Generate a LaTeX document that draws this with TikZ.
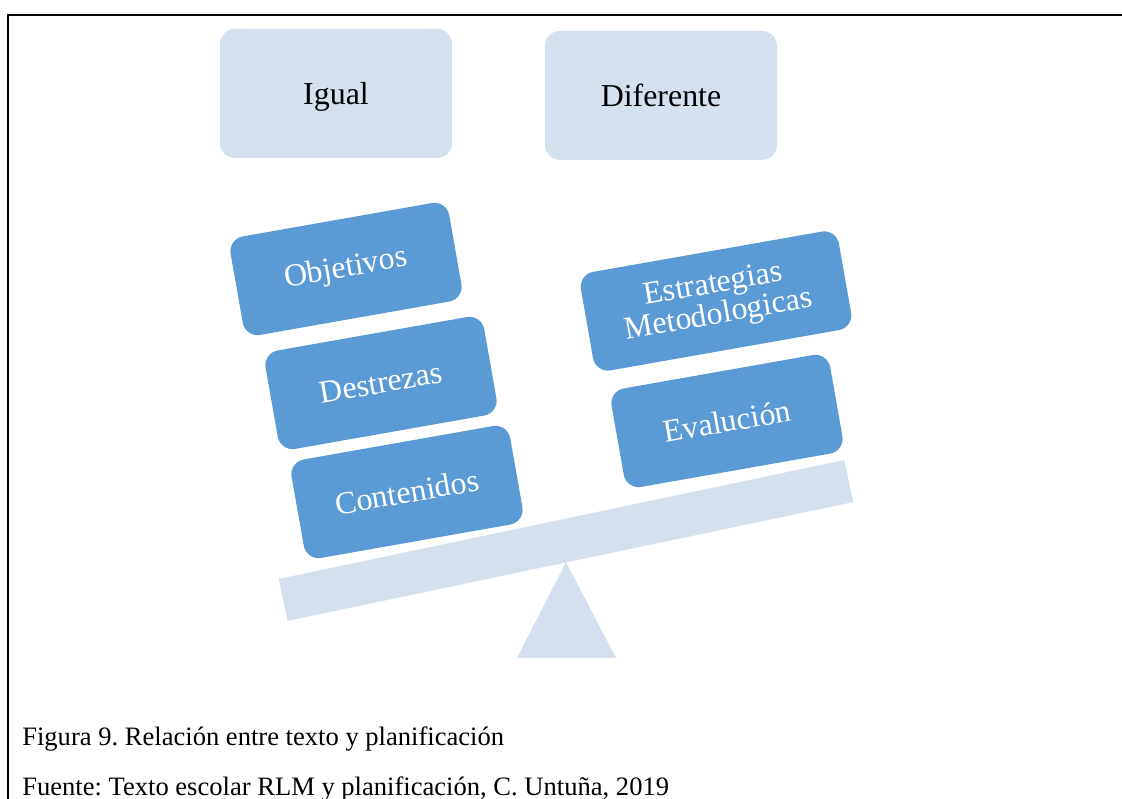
\documentclass[tikz,border=0pt]{standalone}
\usepackage{fontspec}
\setmainfont{Liberation Serif}
\usepackage{tikz}
\usetikzlibrary{positioning}
\frenchspacing
\definecolor{balLight}{RGB}{213,224,238}
\definecolor{balDark}{RGB}{91,155,213}
\tikzset{BalTop/.style={rectangle,rounded corners=0.375cm,fill=balLight,minimum width=5.8cm,minimum height=3.225cm,text depth=0pt,font=\fontsize{22.7}{24}\selectfont}}
\tikzset{BalItem/.style={rectangle,rounded corners=0.375cm,fill=balDark,text=white,minimum width=5.55cm,minimum height=2.5cm,rotate=10,align=center,font=\fontsize{22.7}{22}\selectfont}}
\tikzset{BalBeam/.style={rectangle,fill=balLight,minimum width=14.45cm,minimum height=1.075cm,rotate=11.87}}
\tikzset{Caption/.style={anchor=base west,inner sep=0pt,font=\fontsize{18.9}{20}\selectfont}}

\begin{document}
\begin{tikzpicture}
\useasboundingbox (0,0) rectangle (28.05,19.975);
\draw [line width=0.05cm] (0.2,0) -- (0.2,19.6) -- (28.05,19.6);
\node (igual) at (8.4,17.64) [BalTop] {Igual};
\node (dif) at (16.525,17.59) [BalTop] {Diferente};
\node (beam) at (14.15,6.4625) [BalBeam] {};
\fill [balLight] (14.15,5.925) -- (12.925,3.525) -- (15.4,3.525) -- cycle;
\node (obj) at (8.65,13.25) [BalItem] {Objetivos};
\node (des) at (9.525,10.4) [BalItem] {Destrezas};
\node (con) at (10.175,7.675) [BalItem] {Contenidos};
\node (est) at (17.9,12.45) [BalItem,minimum width=6.55cm] {Estrategias\\Metodologicas};
\node (eva) at (18.175,9.45) [BalItem] {Evalución};
\node (fig) at (0.55,1.325) [Caption] {Figura 9. Relación entre texto y planificación};
\node (src) at (0.55,0.075) [Caption] {Fuente: Texto escolar RLM y planificación, C. Untuña, 2019};
\end{tikzpicture}
\end{document}
